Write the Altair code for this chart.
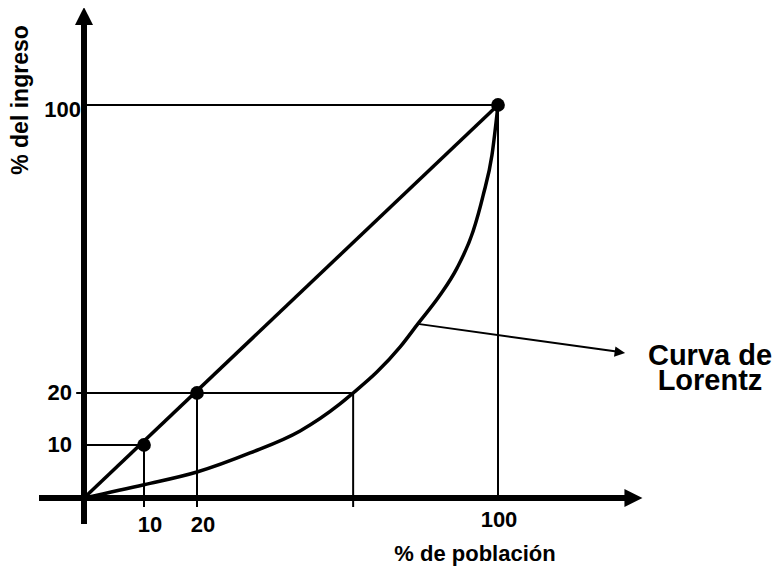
import altair as alt
import pandas as pd

# ---- values (data units, % scale) ----
x_ticks = [10, 20, 100]
y_ticks = [10, 20, 100]

equality_x = [0, 100]
equality_y = [0, 100]

lorenz_x = [0, 10, 20, 34.1, 47.4, 58.0, 61.5, 67.8, 74.0, 78.7, 84.6, 89.1, 93.4, 96.0, 98.4, 100]
lorenz_y = [0, 2.5, 4.9, 8.5, 12.7, 17.9, 20, 25.8, 32.8, 39.2, 47.2, 54.7, 65.0, 74.7, 86.1, 100]

dot_x = [10, 20, 100]
dot_y = [10, 20, 100]

# reference (guide) lines
guide_x = [0, 100, -1.3, 0, 10, 20, 61.5]
guide_x2 = [100, 100, 61, 10, 10, 20, 61.5]
guide_y = [100, 0, 20, 10, -1.7, -1.7, -1.7]
guide_y2 = [100, 100, 20, 10, 10, 20, 20]

# axis lines with arrow heads
axis_x = [-7.5, 0]
axis_x2 = [134, 0]
axis_y = [0, -4.9]
axis_y2 = [0, 123]
arrow_right = (136.0, 0)
arrow_up = (0, 124.7)

# annotation pointer
pointer_from = (78.7, 39.2)
pointer_to = (131.5, 31.5)
pointer_head = (132.4, 31.3)

FONT = "Liberation Sans"

X = alt.Scale(domain=[0, 10, 20, 100], range=[76, 136, 189, 490], nice=False, zero=False)
Y = alt.Scale(domain=[0, 10, 20, 100], range=[490, 437, 385, 97], nice=False, zero=False)


def xe(f):
    return alt.X(f, type="quantitative", scale=X, axis=None)


def ye(f):
    return alt.Y(f, type="quantitative", scale=Y, axis=None)


guides_df = pd.DataFrame({"x": guide_x, "x2": guide_x2, "y": guide_y, "y2": guide_y2})
axes_df = pd.DataFrame({"x": axis_x, "x2": axis_x2, "y": axis_y, "y2": axis_y2})
eq_df = pd.DataFrame({"x": equality_x, "y": equality_y})
lor_df = pd.DataFrame({"x": lorenz_x, "y": lorenz_y})
dots_df = pd.DataFrame({"x": dot_x, "y": dot_y})
ptr_df = pd.DataFrame({"x": [pointer_from[0]], "y": [pointer_from[1]],
                       "x2": [pointer_to[0]], "y2": [pointer_to[1]]})
xt_df = pd.DataFrame({"v": x_ticks, "lab": [str(v) for v in x_ticks]})
yt_df = pd.DataFrame({"v": y_ticks, "lab": [str(v) for v in y_ticks]})

guides = alt.Chart(guides_df).mark_rule(color="black", strokeWidth=2).encode(
    x=xe("x"), x2="x2", y=ye("y"), y2="y2")

axes = alt.Chart(axes_df).mark_rule(color="black", strokeWidth=6).encode(
    x=xe("x"), x2="x2", y=ye("y"), y2="y2")

head_r = alt.Chart(pd.DataFrame({"x": [arrow_right[0]], "y": [arrow_right[1]]})).mark_point(
    shape="M-1,-1L1,0L-1,1Z", filled=True, size=324, color="black", opacity=1, strokeWidth=0
).encode(x=xe("x"), y=ye("y"))

head_u = alt.Chart(pd.DataFrame({"x": [arrow_up[0]], "y": [arrow_up[1]]})).mark_point(
    shape="M0,-1L1,1L-1,1Z", filled=True, size=324, color="black", opacity=1, strokeWidth=0
).encode(x=xe("x"), y=ye("y"))

equality = alt.Chart(eq_df).mark_line(color="black", strokeWidth=3.5).encode(
    x=xe("x"), y=ye("y"))

lorenz = alt.Chart(lor_df).mark_line(color="black", strokeWidth=3.5, interpolate="monotone").encode(
    x=xe("x"), y=ye("y"), order=alt.Order("x:Q"))

dots = alt.Chart(dots_df).mark_circle(color="black", size=190, opacity=1).encode(
    x=xe("x"), y=ye("y"))

pointer = alt.Chart(ptr_df).mark_rule(color="black", strokeWidth=2).encode(
    x=xe("x"), x2="x2", y=ye("y"), y2="y2")

pointer_tip = alt.Chart(pd.DataFrame({"x": [pointer_head[0]], "y": [pointer_head[1]]})).mark_point(
    shape="M-1,-1L1,0L-1,1Z", filled=True, size=110, color="black", opacity=1, strokeWidth=0, angle=8
).encode(x=xe("x"), y=ye("y"))

txt = dict(font=FONT, fontWeight="bold", color="black")

ylab_small = alt.Chart(yt_df).transform_filter("datum.v < 100").mark_text(
    align="right", baseline="middle", dx=-12, fontSize=22, **txt
).encode(x=alt.X("zero:Q", scale=X, axis=None), y=ye("v"), text="lab:N").transform_calculate(zero="0")

ylab_big = alt.Chart(yt_df).transform_filter("datum.v == 100").mark_text(
    align="right", baseline="middle", dx=-3, dy=5, fontSize=22, **txt
).encode(x=alt.X("zero:Q", scale=X, axis=None), y=ye("v"), text="lab:N").transform_calculate(zero="0")

xlab_small = alt.Chart(xt_df).transform_filter("datum.v < 100").mark_text(
    align="center", baseline="alphabetic", dx=6, dy=34, fontSize=22, **txt
).encode(x=xe("v"), y=alt.Y("zero:Q", scale=Y, axis=None), text="lab:N").transform_calculate(zero="0")

xlab_big = alt.Chart(xt_df).transform_filter("datum.v == 100").mark_text(
    align="center", baseline="alphabetic", dx=1, dy=29, fontSize=22, **txt
).encode(x=xe("v"), y=alt.Y("zero:Q", scale=Y, axis=None), text="lab:N").transform_calculate(zero="0")

xtitle = alt.Chart(pd.DataFrame({"t": ["% de población"]})).mark_text(
    align="center", baseline="alphabetic", fontSize=22, **txt
).encode(x=alt.value(467), y=alt.value(553), text="t:N")

ytitle = alt.Chart(pd.DataFrame({"t": ["% del ingreso"]})).mark_text(
    align="center", baseline="alphabetic", angle=270, fontSize=23, **txt
).encode(x=alt.value(20), y=alt.value(92), text="t:N")

annot = alt.Chart(pd.DataFrame({"t": ["Curva de\nLorentz"]})).mark_text(
    align="center", baseline="alphabetic", fontSize=29, lineBreak="\n", lineHeight=25, **txt
).encode(x=alt.value(702), y=alt.value(357), text="t:N")

chart = alt.layer(
    guides, axes, head_r, head_u, equality, lorenz, dots, pointer, pointer_tip,
    ylab_small, ylab_big, xlab_small, xlab_big, xtitle, ytitle, annot
).properties(
    width=768, height=558, autosize=alt.AutoSizeParams(type="none"), padding=0,
    background="white"
).configure_view(stroke=None)

chart.save("out.html", embed_options={"renderer": "svg", "actions": False})
